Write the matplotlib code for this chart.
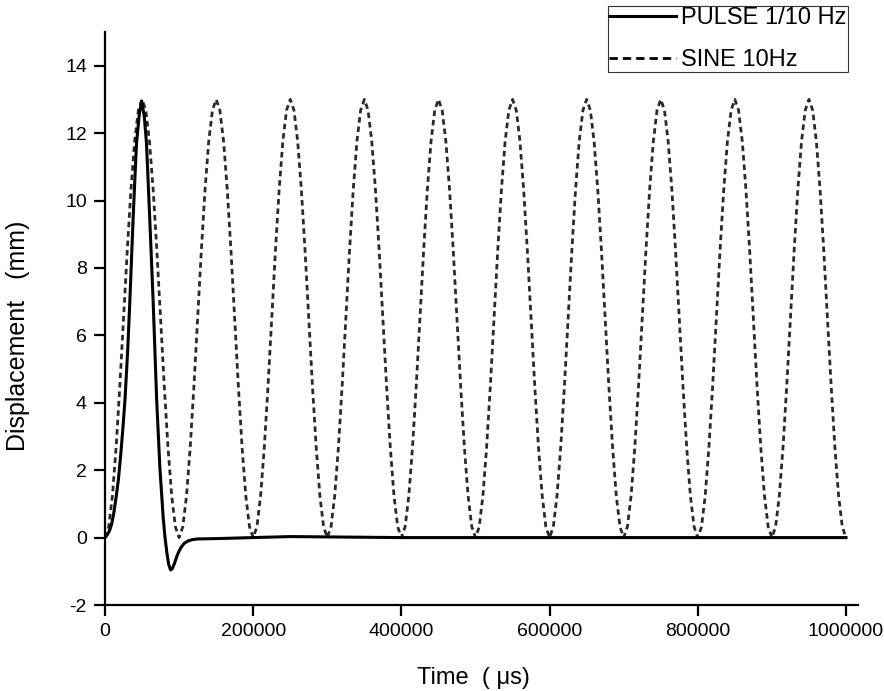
import numpy as np
import matplotlib
matplotlib.use("Agg")
import matplotlib.pyplot as plt
from matplotlib.lines import Line2D

# ============================================================
# DATA
# ============================================================

# pulse, time in microseconds
pulse_t = [0, 3000, 6000, 9000, 12000, 15000, 18000, 21000, 24000, 27000,
           30500, 33500, 38000, 42500, 46500, 49500, 53000, 56000, 60500,
           65000, 69700, 74000, 78500, 81000, 83500, 86000, 88500, 91000,
           94000, 97000, 100000, 103000, 107000, 112000, 118000, 125000,
           150000, 200000, 250000, 300000, 350000, 400000, 600000, 800000,
           1000000]
pulse_y = [0.0, 0.08, 0.2, 0.4, 0.75, 1.2, 1.7, 2.4, 3.2, 4.1,
           5.5, 7.0, 9.5, 11.7, 12.6, 12.95, 12.5, 11.7, 9.4,
           7.0, 4.1, 2.1, 0.6, 0.0, -0.45, -0.8, -0.96, -0.92,
           -0.75, -0.55, -0.4, -0.28, -0.17, -0.1, -0.06, -0.04,
           -0.03, 0.0, 0.03, 0.02, 0.01, 0.0, 0.0, 0.0,
           0.0]

# sine 10 Hz: one period read at 5000 us steps, repeated for 10 periods
sine_period = [0.0, 0.32, 1.24, 2.68, 4.49, 6.5, 8.51, 10.32, 11.76, 12.68,
               13.0, 12.68, 11.76, 10.32, 8.51, 6.5, 4.49, 2.68, 1.24, 0.32]
sine_step = 5000
n_periods = 10

sine_y = np.append(np.tile(sine_period, n_periods), 0.0)
sine_t = np.arange(len(sine_y)) * sine_step

x_ticks = [0, 200000, 400000, 600000, 800000, 1000000]
y_ticks = [-2, 0, 2, 4, 6, 8, 10, 12, 14]

# ============================================================
# PLOT
# ============================================================

plt.rcParams["font.family"] = ["Liberation Sans", "DejaVu Sans"]
plt.rcParams["axes.unicode_minus"] = False

fig = plt.figure(figsize=(8.84, 6.91), dpi=100)
ax = fig.add_axes([105 / 884, 1 - 605 / 691, (858 - 105) / 884, (605 - 32) / 691])

ax.plot(sine_t, sine_y, color="#2a2a2a", linewidth=2.0,
        linestyle=(0, (2.0, 1.4)))
ax.plot(pulse_t, pulse_y, color="black", linewidth=2.2)

ax.set_xlim(0, 1016200)
ax.set_ylim(-2, 15)
ax.set_xticks(x_ticks)
ax.set_xticklabels([str(v) for v in x_ticks])
ax.set_yticks(y_ticks)

for side in ["top", "right"]:
    ax.spines[side].set_visible(False)
for side in ["left", "bottom"]:
    ax.spines[side].set_linewidth(1.6)

ax.tick_params(direction="out", length=8, width=1.6, pad=5, labelsize=14)

ax.set_xlabel("Time  ( \u03bcs)", fontsize=17)
ax.set_ylabel("Displacement   (mm)", fontsize=18)
ax.xaxis.set_label_coords(0.489, -0.108)
ax.yaxis.set_label_coords(-0.1, 0.47)

handles = [
    Line2D([], [], color="black", linewidth=2.2),
    Line2D([], [], color="black", linewidth=2.0, linestyle=(0, (3, 1.8))),
]
leg = fig.legend(handles, ["PULSE 1/10 Hz", "SINE 10Hz"],
                 loc="upper right", bbox_to_anchor=(848 / 884, 1 - 6 / 691),
                 frameon=True, fancybox=False, fontsize=17,
                 handlelength=2.8, handletextpad=0.25, labelspacing=0.85,
                 borderpad=0.05, borderaxespad=0)
leg.get_frame().set_edgecolor("black")
leg.get_frame().set_linewidth(0.8)

fig.savefig("out.png", dpi=100)
